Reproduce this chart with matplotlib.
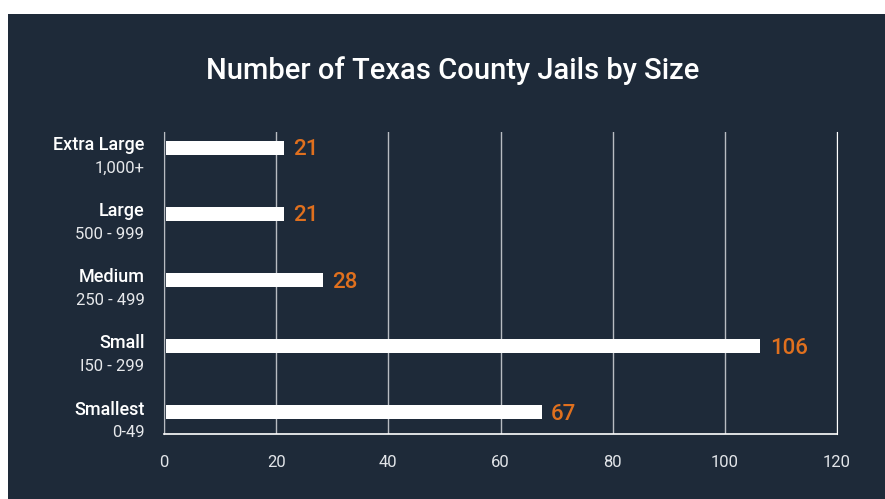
import matplotlib.pyplot as plt
from matplotlib.patches import Rectangle
import matplotlib.transforms as mtransforms

plt.rcParams['font.family'] = ['Roboto', 'DejaVu Sans']

sizes = ['Extra Large', 'Large', 'Medium', 'Small', 'Smallest']
ranges = ['1,000+', '500 - 999', '250 - 499', 'I50 - 299', '0-49']
counts = [21, 21, 28, 106, 67]
xticks = [0, 20, 40, 60, 80, 100, 120]

bg = '#1e2a39'
orange = '#e0701e'

fig = plt.figure(figsize=(8.85, 4.99), dpi=100)
fig.patch.set_facecolor('white')
fig.patches.append(Rectangle((8 / 885, 0), 1, 1 - 14 / 499, transform=fig.transFigure,
                             facecolor=bg, edgecolor='none', zorder=-10))

ax = fig.add_axes([164 / 885, 1 - 434 / 499, 673 / 885, 302 / 499])
ax.set_facecolor(bg)

ypos = list(range(len(sizes) - 1, -1, -1))
ax.barh(ypos, counts, height=0.21, color='white', left=0.35, zorder=3)

# orange count labels
for y, v in zip(ypos, counts):
    ax.text(v + 2.0, y - 0.03, str(v), color=orange, fontsize=16, fontweight='medium',
            va='center', ha='left')

trans = mtransforms.blended_transform_factory(ax.transAxes, ax.transData)
for y, name, r in zip(ypos, sizes, ranges):
    ax.text(-0.029, y + 0.04, name, transform=trans, color='white', fontsize=13,
            fontweight='medium', ha='right', va='center')
    ax.text(-0.029, y - 0.31, r, transform=trans, color='#e6e8eb', fontsize=12,
            ha='right', va='center')

ax.set_xlim(0, 120)
ax.set_ylim(-0.33, 4.24)
ax.set_xticks(xticks)
ax.set_yticks([])
ax.tick_params(axis='x', length=0, pad=15, labelsize=12, labelcolor='#e2e5e9')
ax.grid(axis='x', color='#b8bcc2', linewidth=1, zorder=0)
ax.spines['top'].set_visible(False)
ax.spines['right'].set_color('white')
ax.spines['left'].set_color('#b8bcc2')
ax.spines['bottom'].set_color('white')
ax.spines['bottom'].set_linewidth(1.2)

fig.text(0.511, 1 - 71 / 499, 'Number of Texas County Jails by Size', color='white',
         fontsize=21, fontweight='medium', ha='center', va='center')

fig.savefig('out.png', dpi=100, facecolor=fig.get_facecolor())
